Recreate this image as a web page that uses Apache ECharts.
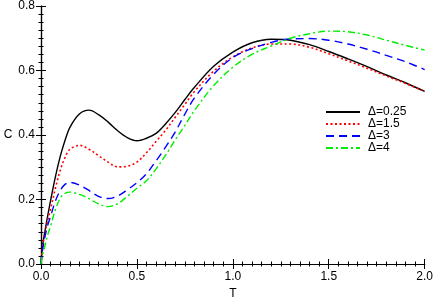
<!DOCTYPE html>
<html><head><meta charset="utf-8">
<script src="https://cdn.jsdelivr.net/npm/echarts@6/dist/echarts.min.js"></script>
<style>html,body{margin:0;padding:0;background:#fff}#c{width:436px;height:305px}</style>
</head><body><div id="c"></div>
<script>
const T = [0,0.005,0.01,0.02,0.035,0.05,0.075,0.1,0.125,0.15,0.2,0.25,0.3,0.35,0.4,0.45,0.5,0.55,0.6,0.65,0.7,0.75,0.8,0.9,1.0,1.1,1.2,1.3,1.4,1.5,1.6,1.7,1.8,1.9,2.0];
const c025 = [0,0.04,0.065,0.10,0.15,0.197,0.27,0.333,0.383,0.423,0.465,0.477,0.463,0.44,0.413,0.392,0.382,0.39,0.405,0.435,0.47,0.51,0.548,0.613,0.657,0.686,0.697,0.694,0.68,0.659,0.636,0.612,0.586,0.562,0.535];
const c15  = [0,0.035,0.058,0.095,0.135,0.17,0.235,0.29,0.33,0.355,0.368,0.356,0.336,0.316,0.301,0.303,0.316,0.345,0.38,0.415,0.455,0.495,0.535,0.598,0.642,0.67,0.682,0.682,0.672,0.652,0.630,0.607,0.583,0.560,0.535];
const c3   = [0,0.03,0.05,0.083,0.12,0.148,0.195,0.228,0.247,0.253,0.245,0.228,0.21,0.203,0.211,0.23,0.252,0.28,0.32,0.363,0.41,0.465,0.515,0.588,0.64,0.668,0.687,0.698,0.699,0.694,0.682,0.666,0.647,0.627,0.603];
const c4   = [0,0.02,0.032,0.055,0.09,0.118,0.168,0.204,0.219,0.223,0.216,0.203,0.186,0.178,0.187,0.21,0.235,0.258,0.295,0.338,0.385,0.43,0.476,0.553,0.61,0.65,0.676,0.70,0.714,0.722,0.72,0.71,0.694,0.678,0.663];
const names = ['\u0394=0.25','\u0394=1.5','\u0394=3','\u0394=4'];

const pair = arr => T.map((t,i)=>[t,arr[i]]);
const font = 'Liberation Sans, Arial, sans-serif';
const mkAxis = (extra, split) => Object.assign({
  type:'value',
  axisLine:{show:true,lineStyle:{color:'#000',width:1.2}},
  axisTick:{show:true,inside:true,length:5,lineStyle:{color:'#000'}},
  minorTick:{show:true,splitNumber:split,length:2.5,lineStyle:{color:'#000'}},
  splitLine:{show:false}
}, extra);
const chart = echarts.init(document.getElementById('c'));
const mk = (name,data,color,type,w) => ({
  name, type:'line', data:pair(data), smooth:0.35, symbol:'none', showSymbol:false,
  xAxisIndex:0, yAxisIndex:0,
  lineStyle:{color,width:w,type}, itemStyle:{color}
});
chart.setOption({
  animation:false,
  grid:{left:41,right:9,top:6,bottom:38},
  textStyle:{fontFamily:font},
  legend:{
    orient:'vertical', left:320, top:101, itemWidth:34, itemHeight:10, itemGap:0,
    itemStyle:{opacity:0},
    textStyle:{fontSize:12,lineHeight:12,color:'#000',fontFamily:font,padding:[0,0,0,3]},
    data:names
  },
  xAxis:[
    mkAxis({min:0,max:2,interval:0.5,position:'bottom',
      name:'T',nameLocation:'middle',nameGap:24,nameTextStyle:{fontSize:12,color:'#000',fontFamily:font},
      axisLabel:{color:'#000',fontSize:12,fontFamily:font,margin:7,formatter:v=>v.toFixed(1)}},10),
    mkAxis({min:0,max:2,interval:0.5,position:'top',axisLabel:{show:false}},10)
  ],
  yAxis:[
    mkAxis({min:0,max:0.8,interval:0.2,position:'left',
      name:'C',nameLocation:'middle',nameGap:28,nameRotate:0,nameTextStyle:{fontSize:12,color:'#000',fontFamily:font},
      axisLabel:{color:'#000',fontSize:12,fontFamily:font,margin:6,formatter:v=>v.toFixed(1)}},8),
    mkAxis({min:0,max:0.8,interval:0.2,position:'right',axisLabel:{show:false}},8)
  ],
  series:[
    mk(names[0],c025,'#000000','solid',1.4),
    mk(names[1],c15,'#ff0000',[2,2.5],1.6),
    mk(names[2],c3,'#0000ff',[8,5],1.4),
    mk(names[3],c4,'#00ee00',[7,3,2,3],1.4)
  ]
});
</script></body></html>
